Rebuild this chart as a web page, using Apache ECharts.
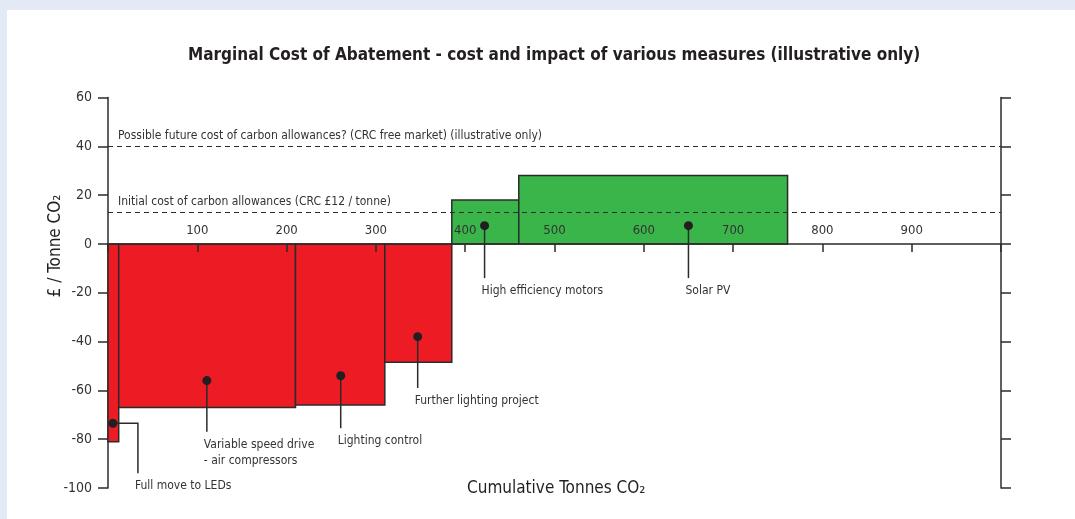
<!DOCTYPE html>
<html>
<head>
<meta charset="utf-8">
<script src="https://cdn.jsdelivr.net/npm/echarts@6/dist/echarts.min.js"></script>
<style>
  html, body { margin: 0; padding: 0; background: #e3e9f5; }
  #chart { position: absolute; left: 7px; top: 10px; width: 1068px; height: 509px; background: #fff; }
</style>
</head>
<body>
<div id="chart"></div>
<script>
// measures, in order along the curve
const measures = ["Full move to LEDs", "Variable speed drive\n- air compressors", "Lighting control",
  "Further lighting project", "High efficiency motors", "Solar PV"];
const tonnesStart = [0, 12, 210, 310, 385, 460];   // cumulative tonnes CO2
const tonnesEnd = [12, 210, 310, 385, 460, 761];
const costPerTonne = [-81, -67, -66, -48.5, 18, 28]; // £ / tonne

// annotation dots + leaders
const dotX = [5.5, 110.7, 260.6, 346.8, 421.7, 650];
const dotY = [-73.5, -56, -54, -38, 7.5, 7.5];
const leaderX = [33.5, 110.7, 260.6, 346.8, 421.7, 650];
const leaderEndY = [-94, -77, -75.5, -59, -14, -14];

// carbon allowance reference lines
const allowanceCost = [40, 13];
const allowanceText = ["Possible future cost of carbon allowances? (CRC free market) (illustrative only)",
  "Initial cost of carbon allowances (CRC £12 / tonne)"];

const yTicks = [-100, -80, -60, -40, -20, 0, 20, 40, 60];
const xTicks = [0, 100, 200, 300, 400, 500, 600, 700, 800, 900, 1000];
const xTickLabels = ["100", "200", "300", "400", "500", "600", "700", "800", "900"];

const FONT = "'Liberation Sans Narrow', 'DejaVu Sans Condensed', sans-serif";
const INK = "#2b2b2b";

var myChart = echarts.init(document.getElementById("chart"));

var barData = measures.map((m, i) => [tonnesStart[i], tonnesEnd[i], costPerTonne[i]]);
var noteData = measures.map((m, i) => [dotX[i], dotY[i], leaderX[i], leaderEndY[i]]);
var tickLabelData = xTickLabels.map((t) => [Number(t), 0]);

var option = {
  animation: false,
  title: [
    {
      text: "Marginal Cost of Abatement - cost and impact of various measures (illustrative only)",
      left: 176,
      top: 32,
      textStyle: { fontFamily: FONT, fontSize: 17, fontWeight: "bold", color: "#231f20" },
    },
    {
      text: "Cumulative Tonnes CO₂",
      left: 455,
      top: 465,
      textStyle: { fontFamily: FONT, fontSize: 17, fontWeight: "normal", color: "#231f20" },
    },
  ],
  graphic: [
    {
      type: "text",
      x: 49,
      y: 236,
      rotation: Math.PI / 2,
      style: {
        text: "£ / Tonne CO₂",
        fontFamily: FONT,
        fontSize: 17,
        fill: "#231f20",
        align: "center",
        verticalAlign: "middle",
      },
    },
  ],
  grid: { left: 101, right: 74, top: 87.5, bottom: 31 },
  xAxis: {
    type: "value",
    min: xTicks[0],
    max: xTicks[xTicks.length - 1],
    interval: 100,
    z: 5,
    axisLine: { onZero: true, onZeroAxisIndex: 0, lineStyle: { color: INK, width: 1.5 } },
    axisTick: { length: 8, lineStyle: { color: INK, width: 1.5 } },
    axisLabel: { show: false },
    splitLine: { show: false },
  },
  yAxis: [
    {
      type: "value",
      min: yTicks[0],
      max: yTicks[yTicks.length - 1],
      interval: 20,
      axisLine: { show: true, lineStyle: { color: INK, width: 1.5 } },
      axisTick: { length: 10, lineStyle: { color: INK, width: 1.5 } },
      axisLabel: { color: "#333", fontFamily: FONT, fontSize: 14, margin: 16 },
      splitLine: { show: false },
    },
    {
      type: "value",
      position: "right",
      min: yTicks[0],
      max: yTicks[yTicks.length - 1],
      interval: 20,
      axisLine: { show: true, lineStyle: { color: INK, width: 1.5 } },
      axisTick: { length: 10, lineStyle: { color: INK, width: 1.5 } },
      axisLabel: { show: false },
      splitLine: { show: false },
    },
  ],
  series: [
    {
      type: "custom",
      name: "measures",
      z: 2,
      renderItem: function (params, api) {
        var p0 = api.coord([api.value(0), 0]);
        var p1 = api.coord([api.value(1), api.value(2)]);
        return {
          type: "rect",
          shape: {
            x: p0[0],
            y: Math.min(p0[1], p1[1]),
            width: p1[0] - p0[0],
            height: Math.abs(p1[1] - p0[1]),
          },
          style: {
            fill: api.value(2) < 0 ? "#ed1c24" : "#39b54a",
            stroke: INK,
            lineWidth: 1.5,
          },
        };
      },
      encode: { x: [0, 1], y: 2 },
      data: barData,
    },
    {
      // x tick labels sit above the zero line
      type: "custom",
      name: "xlabels",
      z: 6,
      silent: true,
      renderItem: function (params, api) {
        var p = api.coord([api.value(0), api.value(1)]);
        return {
          type: "text",
          x: p[0],
          y: p[1] - 7,
          style: {
            text: xTickLabels[params.dataIndex],
            fill: "#333",
            fontFamily: FONT,
            fontSize: 13,
            align: "center",
            verticalAlign: "bottom",
          },
        };
      },
      encode: { x: 0, y: 1 },
      data: tickLabelData,
    },
    {
      type: "custom",
      name: "notes",
      z: 6,
      renderItem: function (params, api) {
        var dot = api.coord([api.value(0), api.value(1)]);
        var elbow = api.coord([api.value(2), api.value(1)]);
        var end = api.coord([api.value(2), api.value(3)]);
        return {
          type: "group",
          children: [
            {
              type: "polyline",
              shape: { points: [dot, elbow, end] },
              style: { stroke: INK, lineWidth: 1.5, fill: null },
            },
            {
              type: "circle",
              shape: { cx: dot[0], cy: dot[1], r: 4.5 },
              style: { fill: "#231f20" },
            },
            {
              type: "text",
              x: end[0] - 3,
              y: end[1] + 5,
              style: {
                text: measures[params.dataIndex],
                fill: "#333",
                fontFamily: FONT,
                fontSize: 12,
                lineHeight: 16,
                align: "left",
                verticalAlign: "top",
              },
            },
          ],
        };
      },
      encode: { x: [0, 2], y: [1, 3] },
      data: noteData,
    },
    {
      type: "line",
      name: "allowances",
      data: [],
      markLine: {
        silent: true,
        symbol: "none",
        lineStyle: { color: INK, type: [5, 4], width: 1.2 },
        label: {
          position: "insideStartTop",
          distance: [10, 4],
          color: "#333",
          fontFamily: FONT,
          fontSize: 12,
          formatter: function (p) {
            return allowanceText[p.dataIndex];
          },
        },
        data: allowanceCost.map((v) => ({ yAxis: v })),
      },
    },
  ],
};

option && myChart.setOption(option);
</script>
</body>
</html>
